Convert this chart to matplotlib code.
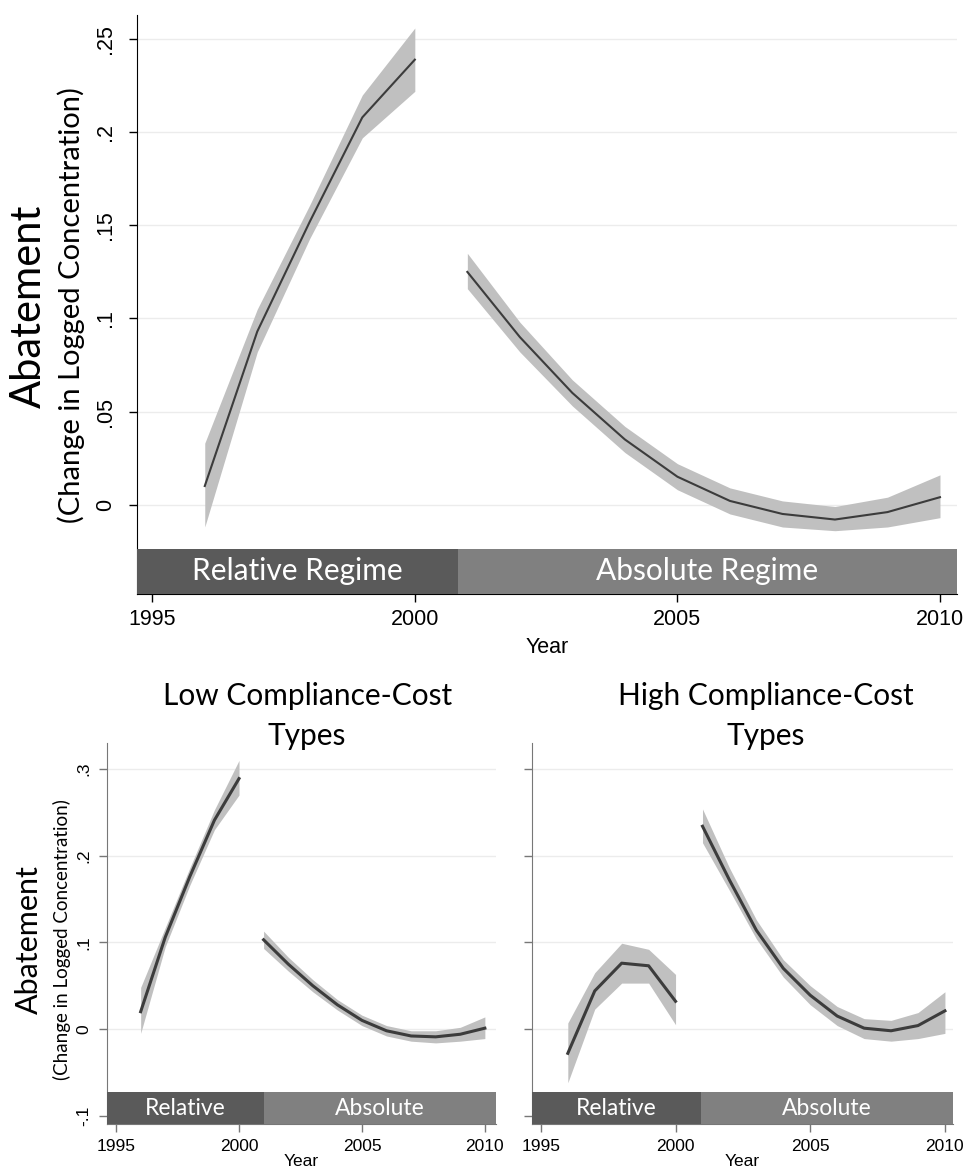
import matplotlib
matplotlib.use("Agg")
import matplotlib.pyplot as plt
from matplotlib.patches import Rectangle

# years
years_rel = [1996, 1997, 1998, 1999, 2000]
years_abs = [2001, 2002, 2003, 2004, 2005, 2006, 2007, 2008, 2009, 2010]

# all firms
all_rel = [0.010, 0.093, 0.152, 0.208, 0.239]
all_rel_lo = [-0.012, 0.082, 0.143, 0.197, 0.222]
all_rel_hi = [0.033, 0.105, 0.161, 0.220, 0.256]
all_abs = [0.125, 0.090, 0.060, 0.035, 0.015, 0.002, -0.005, -0.008, -0.004, 0.004]
all_abs_lo = [0.116, 0.082, 0.053, 0.028, 0.008, -0.005, -0.012, -0.014, -0.012, -0.007]
all_abs_hi = [0.135, 0.098, 0.067, 0.042, 0.022, 0.009, 0.002, -0.001, 0.004, 0.016]

# low compliance-cost types
low_rel = [0.020, 0.106, 0.176, 0.241, 0.289]
low_rel_lo = [-0.005, 0.095, 0.166, 0.230, 0.270]
low_rel_hi = [0.048, 0.117, 0.186, 0.253, 0.310]
low_abs = [0.103, 0.075, 0.050, 0.028, 0.010, -0.002, -0.008, -0.009, -0.006, 0.001]
low_abs_lo = [0.093, 0.067, 0.043, 0.022, 0.004, -0.008, -0.014, -0.016, -0.014, -0.011]
low_abs_hi = [0.113, 0.083, 0.057, 0.034, 0.016, 0.004, -0.002, -0.002, 0.002, 0.014]

# high compliance-cost types
high_rel = [-0.028, 0.044, 0.076, 0.073, 0.032]
high_rel_lo = [-0.062, 0.023, 0.053, 0.053, 0.005]
high_rel_hi = [0.007, 0.065, 0.099, 0.092, 0.063]
high_abs = [0.234, 0.172, 0.114, 0.070, 0.039, 0.015, 0.001, -0.002, 0.004, 0.021]
high_abs_lo = [0.215, 0.160, 0.104, 0.060, 0.028, 0.004, -0.011, -0.014, -0.011, -0.005]
high_abs_hi = [0.254, 0.186, 0.126, 0.080, 0.050, 0.026, 0.012, 0.010, 0.019, 0.043]

xticks = [1995, 2000, 2005, 2010]
top_yticks = [0, 0.05, 0.1, 0.15, 0.2, 0.25]
top_ylabels = ["0", ".05", ".1", ".15", ".2", ".25"]
bot_yticks = [-0.1, 0, 0.1, 0.2, 0.3]
bot_ylabels = ["-.1", "0", ".1", ".2", ".3"]

LINE = "#3c3c3c"
FILL = "#c0c0c0"
DARK = "#5a5a5a"
LIGHT = "#808080"
CAL = "Lato"
ARIAL = "Liberation Sans"


def panel(ax, rel, rel_lo, rel_hi, ab, ab_lo, ab_hi, xlim, ylim, band, brk,
          labels, lw, tick_fs, band_fs, spine_col, yticks, ylabels, show_ylab,
          ypad):
    ax.set_xlim(*xlim)
    ax.set_ylim(*ylim)
    for s in ["top", "right"]:
        ax.spines[s].set_visible(False)
    ax.spines["left"].set_color(spine_col)
    ax.spines["bottom"].set_color(spine_col)
    for y in yticks:
        ax.axhline(y, color="#ececec", lw=1, zorder=0)
    ax.fill_between(years_rel, rel_lo, rel_hi, color=FILL, lw=0, zorder=1)
    ax.fill_between(years_abs, ab_lo, ab_hi, color=FILL, lw=0, zorder=1)
    ax.plot(years_rel, rel, color=LINE, lw=lw, zorder=2)
    ax.plot(years_abs, ab, color=LINE, lw=lw, zorder=2)
    y0, y1 = band
    ax.add_patch(Rectangle((xlim[0], y0), brk - xlim[0], y1 - y0,
                           color=DARK, lw=0, zorder=3))
    ax.add_patch(Rectangle((brk, y0), xlim[1] - brk, y1 - y0,
                           color=LIGHT, lw=0, zorder=3))
    ym = (y0 + y1) / 2
    ax.text((xlim[0] + brk) / 2, ym, labels[0], color="white", ha="center",
            va="center", fontsize=band_fs, family=CAL, zorder=4)
    ax.text((brk + xlim[1]) / 2, ym, labels[1], color="white", ha="center",
            va="center", fontsize=band_fs, family=CAL, zorder=4)
    ax.set_xticks(xticks)
    ax.set_xticklabels([str(x) for x in xticks], fontsize=tick_fs, family=ARIAL)
    ax.set_yticks(yticks)
    if show_ylab:
        ax.set_yticklabels(ylabels, fontsize=tick_fs, family=ARIAL,
                           rotation=90, va="center")
    else:
        ax.set_yticklabels([])
    ax.tick_params(axis="both", direction="out", length=6, width=1,
                   color=spine_col)
    ax.tick_params(axis="x", pad=5)
    ax.tick_params(axis="y", pad=ypad)


fig = plt.figure(figsize=(9.69, 11.7), dpi=100)

ax1 = fig.add_axes([0.1414, 0.4923, 0.846, 0.4949])
panel(ax1, all_rel, all_rel_lo, all_rel_hi, all_abs, all_abs_lo, all_abs_hi,
      (1994.71, 2010.32), (-0.048, 0.263), (-0.048, -0.0237), 2000.82,
      ("Relative Regime", "Absolute Regime"), 1.5, 15.5, 21.5, "black",
      top_yticks, top_ylabels, True, 9)
ax1.set_xlabel("Year", fontsize=15.5, family=ARIAL, labelpad=5)
fig.text(0.030, 0.738, "Abatement", rotation=90, ha="center", va="center",
         fontsize=30, family=CAL)
fig.text(0.073, 0.739, "(Change in Logged Concentration)", rotation=90,
         ha="center", va="center", fontsize=21, family=CAL)

ax2 = fig.add_axes([0.1104, 0.0393, 0.4014, 0.3256])
panel(ax2, low_rel, low_rel_lo, low_rel_hi, low_abs, low_abs_lo, low_abs_hi,
      (1994.63, 2010.45), (-0.1096, 0.33), (-0.1096, -0.0727), 2001.0,
      ("Relative", "Absolute"), 2.2, 12.5, 16.5, "#777777",
      bot_yticks, bot_ylabels, True, 5)
ax2.set_xlabel("Year", fontsize=12.5, family=ARIAL, labelpad=0)
fig.text(0.030, 0.197, "Abatement", rotation=90, ha="center", va="center",
         fontsize=22, family=CAL)
fig.text(0.064, 0.197, "(Change in Logged Concentration)", rotation=90,
         ha="center", va="center", fontsize=13.5, family=CAL)
fig.text(0.317, 0.388, "Low Compliance-Cost\nTypes", ha="center", va="center",
         fontsize=21.5, family=CAL, linespacing=1.5)

ax3 = fig.add_axes([0.549, 0.0393, 0.4345, 0.3256])
panel(ax3, high_rel, high_rel_lo, high_rel_hi, high_abs, high_abs_lo, high_abs_hi,
      (1994.67, 2010.3), (-0.1096, 0.33), (-0.1096, -0.0727), 2000.93,
      ("Relative", "Absolute"), 2.2, 12.5, 16.5, "#777777",
      bot_yticks, bot_ylabels, False, 5)
ax3.set_xlabel("Year", fontsize=12.5, family=ARIAL, labelpad=0)
fig.text(0.790, 0.388, "High Compliance-Cost\nTypes", ha="center", va="center",
         fontsize=21.5, family=CAL, linespacing=1.5)

fig.savefig("out.png", dpi=100)
